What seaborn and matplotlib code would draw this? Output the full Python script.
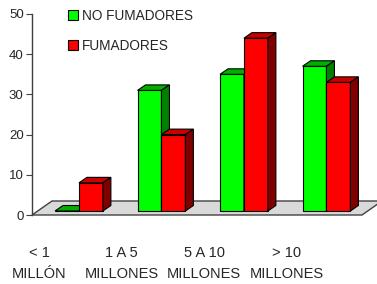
import matplotlib
matplotlib.use("Agg")
import matplotlib.pyplot as plt
import seaborn as sns
import pandas as pd
from matplotlib.patches import Polygon, Patch
from matplotlib.transforms import ScaledTranslation, IdentityTransform

# data
categories = ["< 1\nMILLÓN", "1 A 5\nMILLONES", "5 A 10\nMILLONES", "> 10\nMILLONES"]
series = ["NO FUMADORES", "FUMADORES"]
no_fumadores = [0, 30, 34, 36]
fumadores = [7, 19, 43, 32]

front_colors = ["#00ff00", "#ff0000"]
top_colors = ["#00b000", "#c80000"]
side_colors = ["#008000", "#800000"]

df = pd.DataFrame({
    "grupo": categories * 2,
    "serie": [series[0]] * len(categories) + [series[1]] * len(categories),
    "valor": no_fumadores + fumadores,
})

sns.set_style("white")
plt.rcParams["font.family"] = ["Liberation Sans", "DejaVu Sans"]

fig = plt.figure(figsize=(3.77, 2.84), dpi=100)
ax = fig.add_axes([32 / 377, 69 / 284, 330 / 377, 201 / 284])

sns.barplot(data=df, x="grupo", y="valor", hue="serie", palette=front_colors,
            width=0.58, saturation=1, edgecolor="black", linewidth=0.8,
            legend=False, ax=ax)

ax.set_xlim(-0.5, 3.5)
ax.set_ylim(0, 50)
ax.set_yticks(range(0, 51, 10))
ax.set_xlabel("")
ax.set_ylabel("")

# 3D look: shift fronts back a bit, add top and side faces
off_x, off_y = 5.7, 4.0
dx, dy = 8.0, 5.5
shift = ScaledTranslation(off_x / 100, off_y / 100, fig.dpi_scale_trans)
to_disp = ax.transData.transform

(fx0, fy0), (fx1, _) = to_disp([(-0.5, 0), (3.5, 0)])
floor = [(fx0, fy0), (fx1, fy0), (fx1 + 20, fy0 + 14), (fx0 + 20, fy0 + 14)]
ax.add_patch(Polygon(floor, closed=True, facecolor="#d9d9d9", edgecolor="#404040",
                     lw=1, transform=IdentityTransform(), zorder=1, clip_on=False))

for i, cont in enumerate(ax.containers):
    for bar in cont:
        bar.set_transform(ax.transData + shift)
        bar.set_zorder(2 + i)
        x0, y0 = bar.get_x(), bar.get_y()
        (ax0, ay0), (bx1, by1) = to_disp([(x0, y0), (x0 + bar.get_width(), y0 + bar.get_height())])
        ax0 += off_x; bx1 += off_x; ay0 += off_y; by1 += off_y
        top = [(ax0, by1), (bx1, by1), (bx1 + dx, by1 + dy), (ax0 + dx, by1 + dy)]
        side = [(bx1, ay0), (bx1, by1), (bx1 + dx, by1 + dy), (bx1 + dx, ay0 + dy)]
        for pts, c in ((top, top_colors[i]), (side, side_colors[i])):
            ax.add_patch(Polygon(pts, closed=True, facecolor=c, edgecolor="black", lw=0.8,
                                 transform=IdentityTransform(), zorder=2 + i, clip_on=False))

sns.despine(ax=ax, top=True, right=True, bottom=True)
ax.spines["left"].set_color("#404040")
ax.spines["left"].set_linewidth(1)
ax.tick_params(axis="y", left=True, length=4, width=0.8, color="#404040",
               labelsize=9.5, pad=2)
ax.tick_params(axis="x", bottom=False, length=0, labelsize=10.5, pad=22)
for lab in ax.get_xticklabels():
    lab.set_linespacing(1.7)
    lab.set_transform(lab.get_transform() + ScaledTranslation(-0.34, 0, fig.dpi_scale_trans))

handles = [Patch(facecolor=c, edgecolor="black", lw=0.8) for c in front_colors]
ax.legend(handles, series, loc="upper left", bbox_to_anchor=(68 / 377, 1 - 9 / 284),
          bbox_transform=fig.transFigure, frameon=False, fontsize=9.8,
          handlelength=0.7, handleheight=0.7, handletextpad=0.35,
          labelspacing=1.15, borderpad=0, borderaxespad=0)

fig.savefig("out.png", dpi=100)
